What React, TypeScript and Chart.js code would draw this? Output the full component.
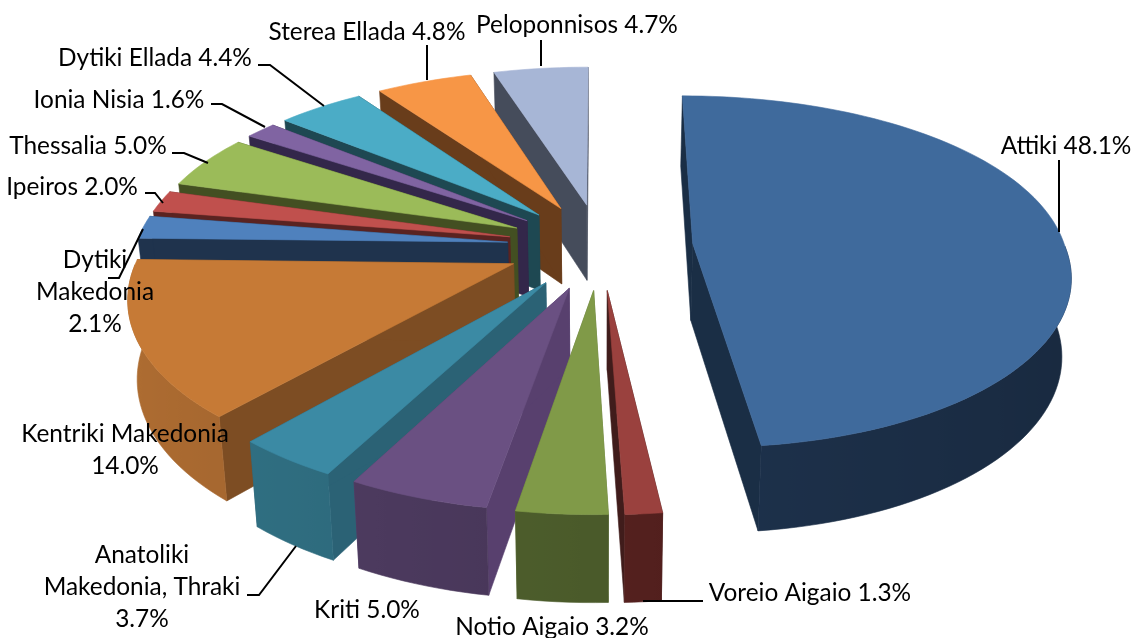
import React, { useEffect, useRef } from "react";
import { Chart, registerables } from "chart.js";

Chart.register(...registerables);

// ---- data ----
const regions = [
  "Attiki", "Voreio Aigaio", "Notio Aigaio", "Kriti", "Anatoliki Makedonia, Thraki",
  "Kentriki Makedonia", "Dytiki Makedonia", "Ipeiros", "Thessalia", "Ionia Nisia",
  "Dytiki Ellada", "Sterea Ellada", "Peloponnisos",
];
const shares = [48.1, 1.3, 3.2, 5.0, 3.7, 14.0, 2.1, 2.0, 5.0, 1.6, 4.4, 4.8, 4.7];

// ---- styles ----
const topColors = ["#3f6a9c", "#9a413e", "#809a48", "#6a5082", "#3b8aa4", "#c67a36", "#4f81bd", "#c0504d", "#9bbb59", "#8064a2", "#4bacc6", "#f79646", "#a7b6d6"];
const cutColors = ["#1a2e45", "#401c1b", "#5f7236", "#58406e", "#2b6275", "#7d4d23", "#1f334d", "#5a2321", "#434f22", "#33274a", "#1e4852", "#693d1b", "#454c5b"];
const rimColors = ["#1d314b", "#54201e", "#4a5a2a", "#473658", "#2b6475", "#975e2b", "#1f334d", "#5a2321", "#434f22", "#33274a", "#1e4852", "#693d1b", "#454c5b"];

const FONT = "24.4px Lato";
const RADIUS = 200;
const EXPLODE = 50;
const view = { cx: 600, cy: 246, a: 372, b: 172, pFront: 0.16, pBackX: 0.125, pBackY: 0.16, depth: 77, bottomScale: 0.98 };

// label placement: text lines per slice are composed from the data above
const labelBreaks: Record<number, string[]> = {
  4: ["Anatoliki", "Makedonia, Thraki"],
  5: ["Kentriki Makedonia"],
  6: ["Dytiki", "Makedonia"],
};
const labelAnchors = [
  [1066, 146], [810, 593], [552, 627], [367, 610], [142, 555], [125, 434], [95, 260],
  [72, 187], [88, 146], [119, 100], [155, 58], [367, 32], [577, 25],
];
const LINE_H = 32;
const leaders = [
  [[1059, 232], [1059, 160]],
  [[643, 601], [703, 601]],
  [],
  [],
  [[296, 546], [259, 595], [247, 595]],
  [],
  [[143, 229], [119, 278], [108, 278]],
  [[145, 193], [155, 193], [163, 203]],
  [[172, 153], [184, 153], [208, 163]],
  [[211, 104], [222, 104], [265, 127]],
  [[258, 65], [270, 65], [324, 106]],
  [[427, 45], [427, 80]],
  [[541, 40], [541, 66]],
];

function project(X: number, Y: number, bottom: boolean) {
  const sx = 1 / (1 + (Y > 0 ? view.pBackX : view.pFront) * Y);
  const s = 1 / (1 + (Y > 0 ? view.pBackY : view.pFront) * Y);
  let x = view.cx + view.a * X * sx;
  let y = view.cy - view.b * Y * s;
  if (bottom) {
    x = view.cx + (x - view.cx) * view.bottomScale;
    y += view.depth * Math.pow(s, 0.6);
  }
  return [x, y];
}

function shade(hex: string, f: number) {
  const n = parseInt(hex.slice(1), 16);
  const c = [(n >> 16) & 255, (n >> 8) & 255, n & 255].map((v) => Math.min(255, Math.round(v * f)));
  return `rgb(${c[0]},${c[1]},${c[2]})`;
}

function fillPoly(ctx: CanvasRenderingContext2D, pts: number[][], color: any) {
  ctx.beginPath();
  pts.forEach((p, i) => (i ? ctx.lineTo(p[0], p[1]) : ctx.moveTo(p[0], p[1])));
  ctx.closePath();
  ctx.fillStyle = color;
  ctx.strokeStyle = color;
  ctx.lineWidth = 0.6;
  ctx.fill();
  ctx.stroke();
}

const pie3d = {
  id: "pie3d",
  beforeDatasetsDraw(chart: any) {
    const ctx: CanvasRenderingContext2D = chart.ctx;
    const arcs = chart.getDatasetMeta(0).data.map((el: any, index: number) => {
      const R = el.outerRadius;
      const mid = (el.startAngle + el.endAngle) / 2;
      const ox = (el.options.offset * Math.cos(mid)) / R;
      const oy = (el.options.offset * Math.sin(mid)) / R;
      const at = (t: number, r: number, bottom: boolean) =>
        project(ox + r * Math.cos(t), -(oy + r * Math.sin(t)), bottom);
      return { el, index, at, apexY: at(0, 0, false)[1] };
    });
    arcs.sort((u: any, v: any) => u.apexY - v.apexY);
    for (const { el, index, at } of arcs) {
      const a0 = el.startAngle;
      const a1 = el.endAngle;
      for (const t of [a0, a1]) {
        fillPoly(ctx, [at(t, 0, false), at(t, 1, false), at(t, 1, true), at(t, 0, true)], cutColors[index]);
      }
      const steps = Math.max(4, Math.ceil((a1 - a0) / 0.03));
      // rim wall, front-facing part only, one polygon with a gradient across it
      const front: number[] = [];
      for (let i = 0; i <= steps; i++) {
        const t = a0 + ((a1 - a0) * i) / steps;
        if (Math.sin(t) >= 0) front.push(t);
      }
      if (front.length > 1) {
        const upper = front.map((t) => at(t, 1, false));
        const lower = front.map((t) => at(t, 1, true)).reverse();
        const x0 = upper[0][0];
        const x1 = upper[upper.length - 1][0];
        const grad = ctx.createLinearGradient(x0, 0, x1, 0);
        front.forEach((t, i) => {
          const stop = (upper[i][0] - x0) / (x1 - x0);
          grad.addColorStop(Math.min(1, Math.max(0, stop)), shade(rimColors[index], 1 - 0.16 * Math.cos(t)));
        });
        fillPoly(ctx, [...upper, ...lower], grad);
      }
      const top = [at(a0, 0, false)];
      for (let i = 0; i <= steps; i++) top.push(at(a0 + ((a1 - a0) * i) / steps, 1, false));
      fillPoly(ctx, top, el.options.backgroundColor);
    }
    return false;
  },
  afterDraw(chart: any) {
    const ctx: CanvasRenderingContext2D = chart.ctx;
    ctx.save();
    ctx.strokeStyle = "#000";
    ctx.lineWidth = 2;
    leaders.forEach((pts) => {
      if (!pts.length) return;
      ctx.beginPath();
      pts.forEach((p, i) => (i ? ctx.lineTo(p[0], p[1]) : ctx.moveTo(p[0], p[1])));
      ctx.stroke();
    });
    ctx.fillStyle = "#000";
    ctx.font = FONT;
    ctx.textAlign = "center";
    ctx.textBaseline = "middle";
    regions.forEach((name, i) => {
      const pct = `${shares[i].toFixed(1)}%`;
      const broken = labelBreaks[i];
      const lines = broken ? [...broken, pct] : [`${name} ${pct}`];
      lines.forEach((line, k) => {
        ctx.fillText(line, labelAnchors[i][0], labelAnchors[i][1] + k * LINE_H);
      });
    });
    ctx.restore();
  },
};

export default function App() {
  const ref = useRef<HTMLCanvasElement>(null);
  useEffect(() => {
    document.body.style.margin = "0";
    document.body.style.background = "#fff";
    const chart = new Chart(ref.current!, {
      type: "pie",
      data: {
        labels: regions,
        datasets: [{ data: shares, backgroundColor: topColors, offset: EXPLODE, hoverOffset: 0, borderWidth: 0 }],
      },
      options: {
        responsive: false,
        animation: false,
        devicePixelRatio: 1,
        radius: RADIUS,
        rotation: 0,
        events: [],
        plugins: { legend: { display: false }, tooltip: { enabled: false } },
      },
      plugins: [pie3d],
    } as any);
    return () => chart.destroy();
  }, []);
  return <canvas ref={ref} width={1133} height={638} style={{ display: "block" }} />;
}
